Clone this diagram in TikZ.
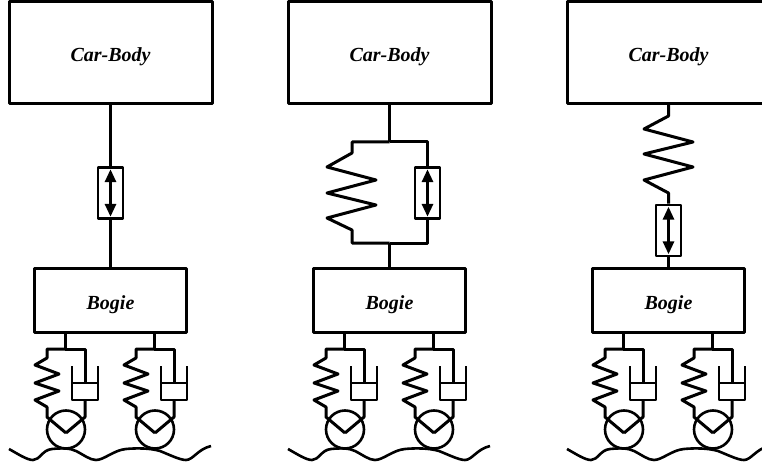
\documentclass[tikz,border=0pt]{standalone}
\usepackage{fontspec}
\setmainfont{Liberation Serif}
\usetikzlibrary{arrows.meta}
\tikzset{
  block/.style={draw, rectangle, inner sep=0pt, text height=19pt, text depth=0pt, font=\fontsize{20}{20}\selectfont\bfseries\itshape},
  dmp/.style={draw, rectangle, fill=white, line width=2.6pt, minimum width=25pt, minimum height=51pt, inner sep=0pt},
  wheel/.style={draw, circle, line width=2.6pt, minimum size=38pt, inner sep=0pt},
  dbl/.style={line width=3pt, {Triangle[length=13pt, width=11pt]}-{Triangle[length=13pt, width=11pt]}, shorten >=3pt, shorten <=3pt},
}
\begin{document}
\begin{tikzpicture}[x=1pt, y=-1pt, line width=3pt, line join=round]
\useasboundingbox (0,0) rectangle (762,465);
\clip (0,0) rectangle (762,465);
\foreach \p/\s in {a/0, b/279, c/558} {
  \begin{scope}[xshift=\s pt]
    \node[block, minimum width=203pt, minimum height=102pt] (car\p) at (110.5,52.5) {Car-Body};
    \node[block, minimum width=152pt, minimum height=64pt] (bogie\p) at (110.5,300) {Bogie};
    % wheel sets
    \foreach \w in {0,89} {
      \begin{scope}[xshift=\w pt]
        \coordinate (bar\p\w) at (65,349);
        \node[wheel] (wh\p\w) at (66,429.5) {};
        \draw (bogie\p.south -| bar\p\w) -- (bar\p\w);
        % spring
        \draw (bar\p\w) -- (47,349) -- (47,358) -- (35,365) -- (59,374) -- (35,383) -- (59,391) -- (35,400) -- (47,407) -- (47,417) -- (66,433);
        % damper
        \draw (bar\p\w) -- (85,349) -- (85,383);
        \draw[line width=2.6pt] (72,366) -- (72,400) -- (98,400) -- (98,366);
        \draw[line width=2.6pt] (72,383) -- (98,383);
        \draw (85,400) -- (85,417) -- (66,433);
      \end{scope}
    }
    % road
    \draw[line width=2.6pt] (9,449) .. controls (18,454) and (27,460) .. (33,460) .. controls (40,460) and (42,450) .. (52,449) .. controls (62,448) and (70,448) .. (76,451) .. controls (84,455) and (90,460) .. (96,460) .. controls (104,460) and (114,450) .. (126,449) .. controls (136,448) and (150,448) .. (160,451) .. controls (170,455) and (180,460) .. (186,460) .. controls (193,460) and (198,449) .. (211,446);
  \end{scope}
}
% first
\node[dmp] (da) at (110.5,193) {};
\draw (cara.south) -- (da.north);
\draw (da.south) -- (bogiea.north);
\draw[dbl] (da.north) -- (da.south);
% second
\coordinate (tb) at (389.5,142);
\coordinate (ub) at (389.5,243);
\node[dmp] (db) at (427.5,193) {};
\draw (carb.south) -- (tb);
\draw (ub) -- (bogieb.north);
\draw (tb) -- (352,142) -- (352,153) -- (327,167) -- (376,180) -- (327,193) -- (376,205) -- (327,218) -- (352,230) -- (352,243) -- (ub);
\draw (tb) -- (427.5,142) -- (db.north);
\draw (ub) -- (427.5,243) -- (db.south);
\draw[dbl] (db.north) -- (db.south);
% third
\node[dmp] (dc) at (668.5,230.5) {};
\draw (carc.south) -- (668.5,116) -- (644,129) -- (693,142) -- (644,154) -- (693,167) -- (644,180) -- (668.5,193) -- (dc.north);
\draw (dc.south) -- (bogiec.north);
\draw[dbl] (dc.north) -- (dc.south);
\end{tikzpicture}
\end{document}
